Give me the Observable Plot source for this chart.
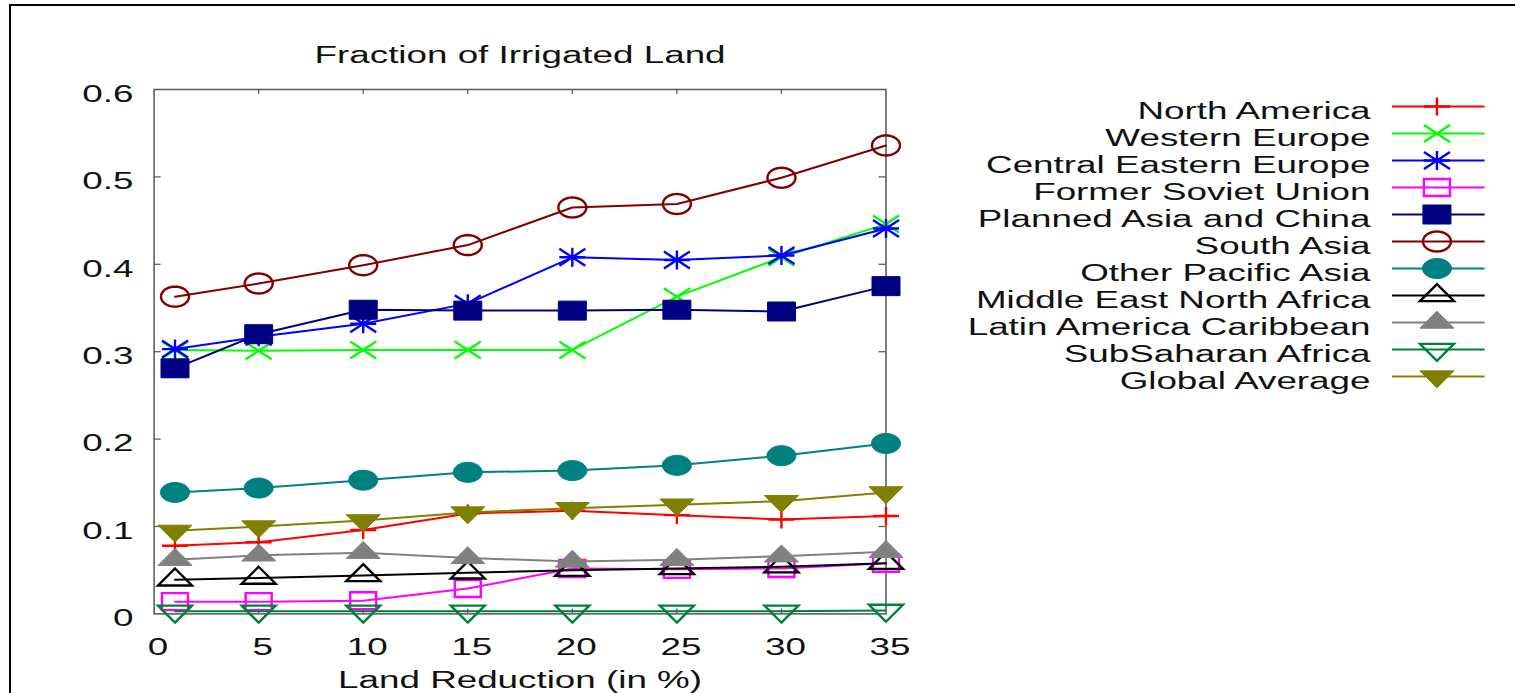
<!DOCTYPE html>
<html>
<head>
<meta charset="utf-8">
<script src="https://cdn.jsdelivr.net/npm/d3@7"></script>
<script src="https://cdn.jsdelivr.net/npm/@observablehq/plot@0.6"></script>
<style>
  html, body { margin: 0; padding: 0; background: #fff; overflow: hidden; }
  #wrap { position: relative; width: 1515px; height: 693px; overflow: hidden; background: #fff; }
  #chart { position: absolute; left: 0; top: 0; }
  #legend { position: absolute; left: 940px; top: 85px; }
  #border { position: absolute; left: 9px; top: 4px; width: 1600px; height: 800px;
            border-left: 2.5px solid #000; border-top: 2.5px solid #000; pointer-events: none; }
</style>
</head>
<body>
<div id="wrap">
  <div id="chart"></div>
  <div id="legend"></div>
  <div id="border"></div>
</div>
<script>
// ---------------- data ----------------
const titleText = "Fraction of Irrigated Land";
const xLabelText = "Land Reduction (in %)";
const xValues = [1, 5, 10, 15, 20, 25, 30, 35];
const xTicks = [0, 5, 10, 15, 20, 25, 30, 35];
const yTicks = [0, 0.1, 0.2, 0.3, 0.4, 0.5, 0.6];

const seriesNames = [
  "North America",
  "Western Europe",
  "Central Eastern Europe",
  "Former Soviet Union",
  "Planned Asia and China",
  "South Asia",
  "Other Pacific Asia",
  "Middle East North Africa",
  "Latin America Caribbean",
  "SubSaharan Africa",
  "Global Average"
];

const northAmerica         = [0.078, 0.082, 0.096, 0.115, 0.118, 0.113, 0.108, 0.112];
const westernEurope        = [0.302, 0.301, 0.302, 0.302, 0.302, 0.363, 0.408, 0.446];
const centralEasternEurope = [0.303, 0.317, 0.332, 0.355, 0.408, 0.405, 0.410, 0.441];
const formerSovietUnion    = [0.014, 0.014, 0.015, 0.029, 0.052, 0.051, 0.052, 0.058];
const plannedAsiaChina     = [0.281, 0.320, 0.348, 0.347, 0.347, 0.348, 0.346, 0.375];
const southAsia            = [0.363, 0.378, 0.399, 0.422, 0.465, 0.469, 0.499, 0.536];
const otherPacificAsia     = [0.139, 0.144, 0.153, 0.162, 0.164, 0.170, 0.181, 0.195];
const middleEastNAfrica    = [0.039, 0.041, 0.044, 0.047, 0.050, 0.052, 0.054, 0.058];
const latinAmericaCarib    = [0.062, 0.067, 0.070, 0.064, 0.060, 0.062, 0.066, 0.071];
const subSaharanAfrica     = [0.003, 0.003, 0.003, 0.003, 0.003, 0.003, 0.003, 0.004];
const globalAverage        = [0.095, 0.100, 0.107, 0.116, 0.121, 0.125, 0.129, 0.139];

const seriesValues = [
  northAmerica, westernEurope, centralEasternEurope, formerSovietUnion,
  plannedAsiaChina, southAsia, otherPacificAsia, middleEastNAfrica,
  latinAmericaCarib, subSaharanAfrica, globalAverage
];

// ---------------- styles ----------------
const seriesColors = [
  "#ff0000", "#00ff00", "#0000ff", "#ff00ff", "#000080", "#800000",
  "#008080", "#000000", "#808080", "#00803a", "#808000"
];

// custom (horizontally stretched, gnuplot-like) point symbols
function ellipse(hw, hh) {
  return { draw(c) {
    const n = 40;
    for (let k = 0; k < n; k++) {
      const a = 2 * Math.PI * k / n, px = hw * Math.cos(a), py = hh * Math.sin(a);
      if (k === 0) c.moveTo(px, py); else c.lineTo(px, py);
    }
    c.closePath();
  }};
}
function rect(hw, hh) {
  return { draw(c) { c.moveTo(-hw, -hh); c.lineTo(hw, -hh); c.lineTo(hw, hh); c.lineTo(-hw, hh); c.closePath(); } };
}
function tri(hw, h, up) {
  const s = up ? 1 : -1;
  return { draw(c) { c.moveTo(0, -s * h * 2 / 3); c.lineTo(hw, s * h / 3); c.lineTo(-hw, s * h / 3); c.closePath(); } };
}
const plusSym  = { draw(c) { c.moveTo(-13, 0); c.lineTo(13, 0); c.moveTo(0, -9); c.lineTo(0, 9); } };
const crossSym = { draw(c) { c.moveTo(-13, -8.5); c.lineTo(13, 8.5); c.moveTo(-13, 8.5); c.lineTo(13, -8.5); } };
const starSym  = { draw(c) { crossSym.draw(c); c.moveTo(-13, 0); c.lineTo(13, 0); c.moveTo(0, -9.5); c.lineTo(0, 9.5); } };

const seriesSymbols = [
  plusSym, crossSym, starSym, rect(13, 8.5), rect(14, 9.5), ellipse(14, 10),
  ellipse(14.5, 10), tri(17, 17, true), tri(17, 17, true), tri(17, 17, false), tri(17, 17, false)
];
const seriesFilled = [false, false, false, false, true, false, true, false, true, false, true];

// ---------------- layout ----------------
const W = 1515, H = 693;
const mLeft = 153.6, mRight = 629.5, mTop = 89, mBottom = 79.6;
const plotW = W - mLeft - mRight, plotH = H - mTop - mBottom;
const frameColor = "#606060";
const textStretch = 1.6;
const fontFamily = "'Liberation Sans', Arial, Helvetica, sans-serif";

// ---------------- main chart ----------------
const seriesMarks = [];
seriesNames.forEach((name, i) => {
  const rows = xValues.map((x, j) => ({ x, y: seriesValues[i][j], series: name }));
  seriesMarks.push(Plot.line(rows, { x: "x", y: "y", stroke: seriesColors[i], strokeWidth: 2 }));
  seriesMarks.push(Plot.dot(rows, {
    x: "x", y: "y", r: 10, symbol: seriesSymbols[i],
    stroke: seriesColors[i], strokeWidth: seriesFilled[i] ? 1 : 2.4,
    fill: seriesFilled[i] ? seriesColors[i] : "none"
  }));
});

const chart = Plot.plot({
  width: W, height: H,
  marginLeft: mLeft, marginRight: mRight, marginTop: mTop, marginBottom: mBottom,
  style: { fontFamily, color: "#111", background: "transparent", overflow: "visible" },
  x: { domain: [0, 35] },
  y: { domain: [0, 0.6] },
  marks: [
    Plot.ruleX(xTicks.slice(1, -1), { x: d => d, stroke: frameColor, strokeWidth: 1.3, insetBottom: plotH - 5 }),
    Plot.ruleX(xTicks.slice(1, -1), { x: d => d, stroke: frameColor, strokeWidth: 1.3, insetTop: plotH - 5 }),
    Plot.ruleY(yTicks.slice(1, -1), { y: d => d, stroke: frameColor, strokeWidth: 1.3, insetRight: plotW - 7 }),
    Plot.ruleY(yTicks.slice(1, -1), { y: d => d, stroke: frameColor, strokeWidth: 1.3, insetLeft: plotW - 7 }),
    Plot.axisX({ ticks: xTicks, tickSize: 0, tickPadding: 24.6, dx: 4, fontSize: 23, label: null }),
    Plot.axisY({ ticks: yTicks, tickSize: 0, tickPadding: 20.6, dy: 5, fontSize: 23, tickFormat: "~g", label: null }),
    Plot.frame({ stroke: frameColor, strokeWidth: 1.6 }),
    ...seriesMarks,
    Plot.text([titleText], { text: d => d, frameAnchor: "top", lineAnchor: "bottom", dy: -27, fontSize: 23 }),
    Plot.text([xLabelText], { text: d => d, frameAnchor: "bottom", lineAnchor: "bottom", dy: 74, fontSize: 23 })
  ]
});

// ---------------- legend ----------------
const legendMarks = [];
seriesNames.forEach((name, i) => {
  legendMarks.push(Plot.ruleY([name], { y: d => d, x1: 0, x2: 1, stroke: seriesColors[i], strokeWidth: 2.2 }));
  legendMarks.push(Plot.dot([name], {
    x: 0.48, y: d => d, r: 10, symbol: seriesSymbols[i],
    stroke: seriesColors[i], strokeWidth: seriesFilled[i] ? 1 : 2.4,
    fill: seriesFilled[i] ? seriesColors[i] : "none"
  }));
});
legendMarks.push(Plot.text(seriesNames, {
  x: 0, y: d => d, text: d => d, textAnchor: "end", dx: -22, dy: 5, fontSize: 23
}));

const legend = Plot.plot({
  width: 560, height: 310,
  marginLeft: 452, marginRight: 15.4, marginTop: 18.3, marginBottom: 16,
  style: { fontFamily, color: "#111", background: "transparent", overflow: "visible" },
  x: { domain: [0, 1], axis: null },
  y: { type: "point", domain: seriesNames, padding: 0, axis: null },
  marks: legendMarks
});

// stretch the text horizontally like the original (wide gnuplot rendering)
function stretchText(svg, s) {
  svg.querySelectorAll("text").forEach(t => {
    const tr = t.getAttribute("transform");
    if (tr) {
      t.setAttribute("transform", tr + ` scale(${s},1)`);
    } else {
      const x = +t.getAttribute("x") || 0, y = +t.getAttribute("y") || 0;
      t.removeAttribute("x"); t.removeAttribute("y");
      t.setAttribute("transform", `translate(${x},${y}) scale(${s},1)`);
    }
  });
}
stretchText(chart, textStretch);
stretchText(legend, textStretch);

document.getElementById("chart").appendChild(chart);
document.getElementById("legend").appendChild(legend);
</script>
</body>
</html>
